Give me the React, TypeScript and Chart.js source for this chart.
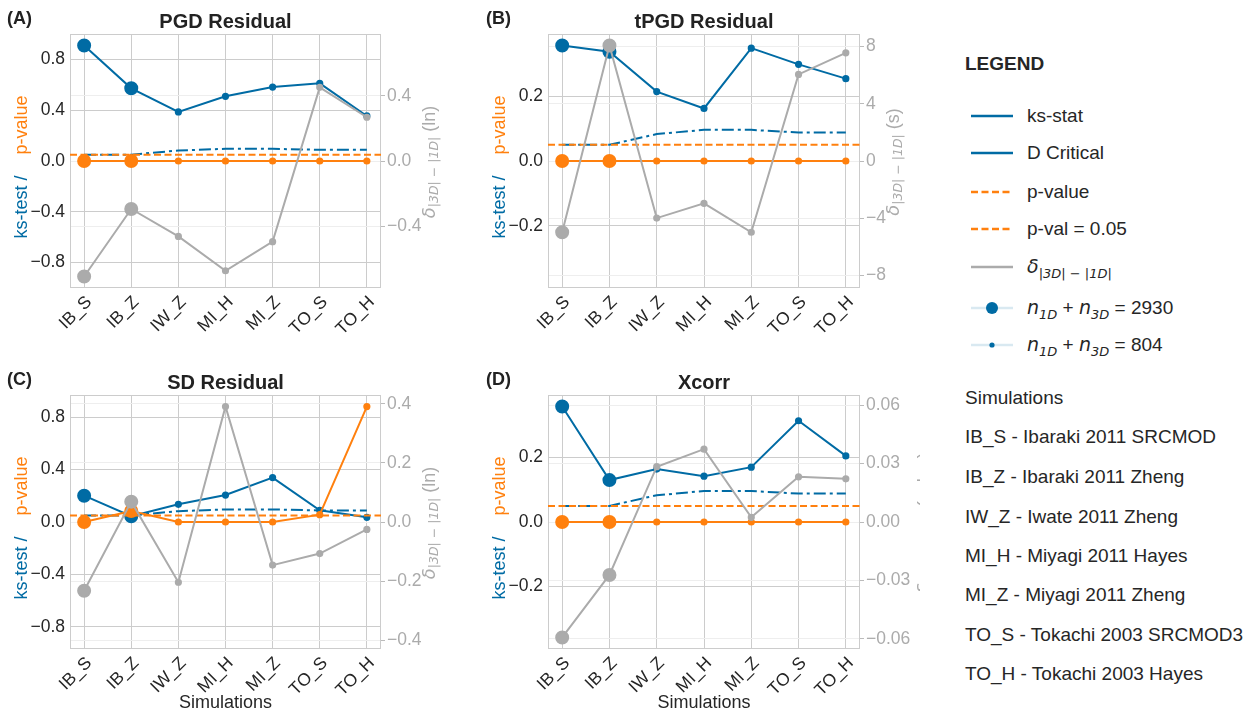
import React, { useEffect, useRef } from "react";
import { Chart, registerables } from "chart.js";

Chart.register(...registerables);

const FONT = '"Liberation Sans", Arial, Helvetica, sans-serif';
const MATH_FONT = '"DejaVu Sans", "Liberation Sans", sans-serif';
const BLUE = "#006BA4";
const ORANGE = "#FF800E";
const GRAY = "#ABABAB";
const TEXT = "#262626";
const GRID = "#cccccc";
const GRID_LIGHT = "#eeeeee";

// ---------------- data ----------------
const categories = ["IB_S", "IB_Z", "IW_Z", "MI_H", "MI_Z", "TO_S", "TO_H"];
const simulationNames = [
  "IB_S - Ibaraki 2011 SRCMOD",
  "IB_Z - Ibaraki 2011 Zheng",
  "IW_Z - Iwate 2011 Zheng",
  "MI_H - Miyagi 2011 Hayes",
  "MI_Z - Miyagi 2011 Zheng",
  "TO_S - Tokachi 2003 SRCMOD3",
  "TO_H - Tokachi 2003 Hayes",
];
const sampleSizes = [2930, 2930, 804, 804, 804, 804, 804];
const dCritical = [0.05, 0.05, 0.083, 0.096, 0.096, 0.088, 0.088];
const pThreshold = 0.05;

const pgdKs = [0.91, 0.573, 0.387, 0.51, 0.583, 0.612, 0.355];
const pgdP = [0, 0, 0, 0, 0, 0, 0];
const pgdDelta = [-0.71, -0.295, -0.464, -0.675, -0.496, 0.453, 0.269];

const tpgdKs = [0.356, 0.337, 0.214, 0.162, 0.348, 0.298, 0.254];
const tpgdP = [0, 0, 0, 0, 0, 0, 0];
const tpgdDelta = [-4.98, 8.07, -3.99, -2.96, -4.98, 6.05, 7.56];

const sdKs = [0.201, 0.044, 0.135, 0.206, 0.339, 0.089, 0.036];
const sdP = [0, 0.084, 0, 0, 0, 0.056, 0.882];
const sdDelta = [-0.233, 0.069, -0.204, 0.391, -0.146, -0.107, -0.025];

const xcorrKs = [0.358, 0.13, 0.164, 0.142, 0.17, 0.314, 0.205];
const xcorrP = [0, 0, 0, 0, 0, 0, 0];
const xcorrDelta = [-0.0593, -0.0272, 0.0284, 0.0374, 0.0024, 0.0232, 0.0222];

const leftTicksWide = [-0.8, -0.4, 0, 0.4, 0.8];
const leftTicksNarrow = [-0.2, 0, 0.2];
const rightTicksPGD = [-0.4, 0, 0.4];
const rightTicksTPGD = [-8, -4, 0, 4, 8];
const rightTicksSD = [-0.4, -0.2, 0, 0.2, 0.4];
const rightTicksXcorr = [-0.06, -0.03, 0, 0.03, 0.06];

const legendRows = ["ks-stat", "D Critical", "p-value", "p-val = 0.05", "delta", "n2930", "n804"];

// ---------------- layout ----------------
type Box = { left: number; top: number; width: number; height: number };
type Area = { left: number; right: number; top: number; bottom: number };

type PanelCfg = {
  tag: string;
  title: string;
  ks: number[];
  p: number[];
  delta: number[];
  leftTicks: number[];
  leftDec: number;
  rightTicks: number[];
  rightDec: number;
  unit: string;
  xTitle: boolean;
  tagX: number;
  rightTitleGap: number;
  box: Box;
  area: Area;
};

const panels: PanelCfg[] = [
  {
    tag: "(A)", title: "PGD Residual", ks: pgdKs, p: pgdP, delta: pgdDelta,
    leftTicks: leftTicksWide, leftDec: 1, rightTicks: rightTicksPGD, rightDec: 1, unit: "ln",
    xTitle: false, tagX: 7, rightTitleGap: 49,
    box: { left: 0, top: 0, width: 460, height: 340 },
    area: { left: 70, right: 381, top: 34, bottom: 288 },
  },
  {
    tag: "(B)", title: "tPGD Residual", ks: tpgdKs, p: tpgdP, delta: tpgdDelta,
    leftTicks: leftTicksNarrow, leftDec: 1, rightTicks: rightTicksTPGD, rightDec: 0, unit: "s",
    xTitle: false, tagX: 26, rightTitleGap: 34,
    box: { left: 460, top: 0, width: 460, height: 340 },
    area: { left: 88, right: 400, top: 34, bottom: 288 },
  },
  {
    tag: "(C)", title: "SD Residual", ks: sdKs, p: sdP, delta: sdDelta,
    leftTicks: leftTicksWide, leftDec: 1, rightTicks: rightTicksSD, rightDec: 1, unit: "ln",
    xTitle: true, tagX: 7, rightTitleGap: 49,
    box: { left: 0, top: 340, width: 460, height: 377 },
    area: { left: 70, right: 381, top: 55, bottom: 309 },
  },
  {
    tag: "(D)", title: "Xcorr", ks: xcorrKs, p: xcorrP, delta: xcorrDelta,
    leftTicks: leftTicksNarrow, leftDec: 1, rightTicks: rightTicksXcorr, rightDec: 2, unit: "value",
    xTitle: true, tagX: 26, rightTitleGap: 65,
    box: { left: 460, top: 340, width: 460, height: 377 },
    area: { left: 88, right: 400, top: 55, bottom: 309 },
  },
];

const fmt = (v: number, dec: number) => {
  const s = Math.abs(v).toFixed(dec);
  return v < -1e-12 ? "\u2212" + s : s;
};

const markerRadius = (n: number) => (n > 1000 ? 6 : 2.6);

// ---------------- decoration plugin ----------------
const decorPlugin = {
  id: "decor",
  beforeDatasetsDraw(chart: any) {
    const { ctx, chartArea: a } = chart;
    ctx.save();
    ctx.strokeStyle = GRID;
    ctx.lineWidth = 1;
    ctx.strokeRect(Math.round(a.left) + 0.5, Math.round(a.top) + 0.5, Math.round(a.right - a.left) - 1, Math.round(a.bottom - a.top) - 1);
    ctx.restore();
  },
  afterDraw(chart: any, _args: any, opts: any) {
    const cfg: PanelCfg = opts.cfg;
    if (!cfg) return;
    const { ctx, chartArea: a } = chart;
    const cy = (a.top + a.bottom) / 2;
    ctx.save();
    // title
    ctx.fillStyle = "#222222";
    ctx.font = `bold 20px ${FONT}`;
    ctx.textAlign = "center";
    ctx.textBaseline = "alphabetic";
    ctx.fillText(cfg.title, (a.left + a.right) / 2, a.top - 6);
    // panel tag
    ctx.font = `bold 18px ${FONT}`;
    ctx.textAlign = "left";
    ctx.fillText(cfg.tag, cfg.tagX, a.top - 10);
    // x title
    if (cfg.xTitle) {
      ctx.fillStyle = TEXT;
      ctx.font = `18px ${FONT}`;
      ctx.textAlign = "center";
      ctx.textBaseline = "middle";
      ctx.fillText("Simulations", (a.left + a.right) / 2, a.bottom + 54);
    }
    // left title
    ctx.save();
    ctx.translate(a.left - 48, cy);
    ctx.rotate(-Math.PI / 2);
    ctx.font = `18px ${FONT}`;
    ctx.textAlign = "center";
    ctx.textBaseline = "middle";
    ctx.fillStyle = BLUE;
    ctx.fillText("ks-test /", -46, 0);
    ctx.fillStyle = ORANGE;
    ctx.fillText("p-value", 36, 0);
    ctx.restore();
    // right title
    const rx = a.right + cfg.rightTitleGap;
    const segs = [
      { t: "\u03b4", f: `italic 18px ${MATH_FONT}`, dy: 0 },
      { t: "|3D| \u2212 |1D|", f: `italic 12.5px ${MATH_FONT}`, dy: 5 },
      { t: ` (${cfg.unit})`, f: `18px ${FONT}`, dy: 0 },
    ];
    let total = 0;
    const widths = segs.map((s) => {
      ctx.font = s.f;
      const w = ctx.measureText(s.t).width;
      total += w;
      return w;
    });
    ctx.save();
    ctx.translate(rx, cy + 1);
    ctx.rotate(-Math.PI / 2);
    ctx.fillStyle = GRAY;
    ctx.textAlign = "left";
    ctx.textBaseline = "middle";
    let tx = -total / 2;
    segs.forEach((s, i) => {
      ctx.font = s.f;
      ctx.fillText(s.t, tx, s.dy);
      tx += widths[i];
    });
    ctx.restore();
    ctx.restore();
  },
};

// ---------------- panel ----------------
function Panel({ cfg }: { cfg: PanelCfg }) {
  const ref = useRef<HTMLCanvasElement>(null);
  useEffect(() => {
    const canvas = ref.current;
    if (!canvas) return;
    const n = categories.length;
    const xMin = -0.3;
    const xMax = n - 1 + 0.3;
    const radii = sampleSizes.map(markerRadius);
    const pts = (arr: number[]) => arr.map((v, i) => ({ x: i, y: v }));
    const leftLim =
      1.1 * Math.max(...cfg.ks.map(Math.abs), ...cfg.p.map(Math.abs), ...dCritical);
    const rightLim = 1.1 * Math.max(...cfg.delta.map(Math.abs));
    const tickFont = { family: FONT, size: 17.5 };
    const chart = new Chart(canvas, {
      type: "line",
      data: {
        datasets: [
          {
            label: "delta", data: pts(cfg.delta), yAxisID: "y2",
            borderColor: GRAY, backgroundColor: GRAY, pointBackgroundColor: GRAY, pointBorderColor: GRAY,
            pointRadius: radii, borderWidth: 2, order: 0,
          },
          {
            label: "p-val = 0.05", data: [{ x: xMin, y: pThreshold }, { x: xMax, y: pThreshold }], yAxisID: "y",
            borderColor: ORANGE, borderDash: [7, 3.5], borderWidth: 2, pointRadius: 0, order: 1,
          },
          {
            label: "p-value", data: pts(cfg.p), yAxisID: "y",
            borderColor: ORANGE, backgroundColor: ORANGE, pointBackgroundColor: ORANGE, pointBorderColor: ORANGE,
            pointRadius: radii, borderWidth: 2, order: 2,
          },
          {
            label: "D Critical", data: pts(dCritical), yAxisID: "y",
            borderColor: BLUE, borderDash: [12, 4, 3, 4], borderWidth: 2, pointRadius: 0, order: 3,
          },
          {
            label: "ks-stat", data: pts(cfg.ks), yAxisID: "y",
            borderColor: BLUE, backgroundColor: BLUE, pointBackgroundColor: BLUE, pointBorderColor: BLUE,
            pointRadius: radii, borderWidth: 2, order: 4,
          },
        ],
      },
      options: {
        animation: false,
        responsive: false,
        events: [],
        layout: { padding: { top: cfg.area.top, left: 0, right: 0, bottom: 0 } },
        plugins: {
          legend: { display: false },
          tooltip: { enabled: false },
          title: { display: false },
          decor: { cfg },
        } as any,
        scales: {
          x: {
            type: "linear",
            min: xMin,
            max: xMax,
            afterBuildTicks: (s: any) => {
              s.ticks = categories.map((_, i) => ({ value: i }));
            },
            afterFit: (s: any) => {
              s.height = cfg.box.height - cfg.area.bottom;
            },
            ticks: {
              callback: (v: any) => categories[Math.round(Number(v))] ?? "",
              minRotation: 45,
              maxRotation: 45,
              autoSkip: false,
              font: tickFont,
              color: TEXT,
              padding: 4,
              labelOffset: 5,
            },
            grid: { color: GRID, drawTicks: false },
            border: { display: false },
          },
          y: {
            type: "linear",
            position: "left",
            min: -leftLim,
            max: leftLim,
            afterBuildTicks: (s: any) => {
              s.ticks = cfg.leftTicks.map((v) => ({ value: v }));
            },
            afterFit: (s: any) => {
              s.width = cfg.area.left;
            },
            ticks: {
              callback: (v: any) => fmt(Number(v), cfg.leftDec),
              font: tickFont,
              color: TEXT,
              padding: 5,
            },
            grid: { color: GRID, drawTicks: false },
            border: { display: false },
          },
          y2: {
            type: "linear",
            position: "right",
            min: -rightLim,
            max: rightLim,
            afterBuildTicks: (s: any) => {
              s.ticks = cfg.rightTicks.map((v) => ({ value: v }));
            },
            afterFit: (s: any) => {
              s.width = cfg.box.width - cfg.area.right;
            },
            ticks: {
              callback: (v: any) => fmt(Number(v), cfg.rightDec),
              font: tickFont,
              color: GRAY,
              padding: 2,
            },
            grid: { color: GRID_LIGHT, tickLength: 4, tickColor: "#bbbbbb" },
            border: { display: false },
          },
        },
      } as any,
      plugins: [decorPlugin],
    });
    return () => chart.destroy();
  }, [cfg]);
  return (
    <canvas
      ref={ref}
      width={cfg.box.width}
      height={cfg.box.height}
      style={{
        position: "absolute",
        left: cfg.box.left,
        top: cfg.box.top,
        width: cfg.box.width,
        height: cfg.box.height,
      }}
    />
  );
}

// ---------------- legend ----------------
function Sample({ kind }: { kind: string }) {
  const w = 42;
  const h = 14;
  const y = h / 2;
  let el: any = null;
  if (kind === "ks-stat" || kind === "D Critical") {
    el = <line x1={0} y1={y} x2={w} y2={y} stroke={BLUE} strokeWidth={2.5} />;
  } else if (kind === "p-value" || kind === "p-val = 0.05") {
    el = <line x1={0} y1={y} x2={w} y2={y} stroke={ORANGE} strokeWidth={2.5} strokeDasharray="7 3.5" />;
  } else if (kind === "delta") {
    el = <line x1={0} y1={y} x2={w} y2={y} stroke={GRAY} strokeWidth={2.5} />;
  } else {
    const r = kind === "n2930" ? markerRadius(2930) : markerRadius(804);
    el = (
      <g>
        <line x1={0} y1={y} x2={w} y2={y} stroke={BLUE} strokeOpacity={0.15} strokeWidth={2.5} />
        <circle cx={w / 2} cy={y} r={r} fill={BLUE} />
      </g>
    );
  }
  return (
    <svg width={w} height={h} style={{ display: "block" }}>
      {el}
    </svg>
  );
}

function LegendLabel({ kind }: { kind: string }) {
  const math: React.CSSProperties = { fontFamily: MATH_FONT, fontStyle: "italic" };
  const sub: React.CSSProperties = { fontFamily: MATH_FONT, fontStyle: "italic", fontSize: 13, position: "relative", top: 5 };
  if (kind === "delta") {
    return (
      <span>
        <span style={math}>{"\u03b4"}</span>
        <span style={sub}>{"|3D| \u2212 |1D|"}</span>
      </span>
    );
  }
  if (kind === "n2930" || kind === "n804") {
    const num = kind === "n2930" ? sampleSizes[0] : sampleSizes[2];
    return (
      <span>
        <span style={math}>n</span>
        <span style={sub}>1D</span>
        <span> + </span>
        <span style={math}>n</span>
        <span style={sub}>3D</span>
        <span>{` = ${num}`}</span>
      </span>
    );
  }
  return <span>{kind}</span>;
}

function Legend() {
  const rowY = [116, 153, 192, 229, 267, 308, 345];
  const simY = [437, 477, 517, 556, 595, 635, 674];
  const base: React.CSSProperties = {
    position: "absolute",
    fontFamily: FONT,
    color: TEXT,
    whiteSpace: "nowrap",
    transform: "translateY(-50%)",
    lineHeight: "22px",
  };
  return (
    <div>
      <div style={{ ...base, left: 965, top: 64, fontWeight: "bold", fontSize: 19 }}>LEGEND</div>
      {legendRows.map((k, i) => (
        <React.Fragment key={k}>
          <div style={{ ...base, left: 971, top: rowY[i] }}>
            <Sample kind={k} />
          </div>
          <div style={{ ...base, left: 1027, top: rowY[i], fontSize: 19 }}>
            <LegendLabel kind={k} />
          </div>
        </React.Fragment>
      ))}
      <div style={{ ...base, left: 965, top: 398, fontSize: 19 }}>Simulations</div>
      {simulationNames.map((s, i) => (
        <div key={s} style={{ ...base, left: 965, top: simY[i], fontSize: 19 }}>
          {s}
        </div>
      ))}
    </div>
  );
}

export default function App() {
  return (
    <div
      style={{
        position: "fixed",
        left: 0,
        top: 0,
        width: 1256,
        height: 717,
        background: "#ffffff",
        overflow: "hidden",
      }}
    >
      {panels.map((p) => (
        <Panel key={p.tag} cfg={p} />
      ))}
      <Legend />
    </div>
  );
}
